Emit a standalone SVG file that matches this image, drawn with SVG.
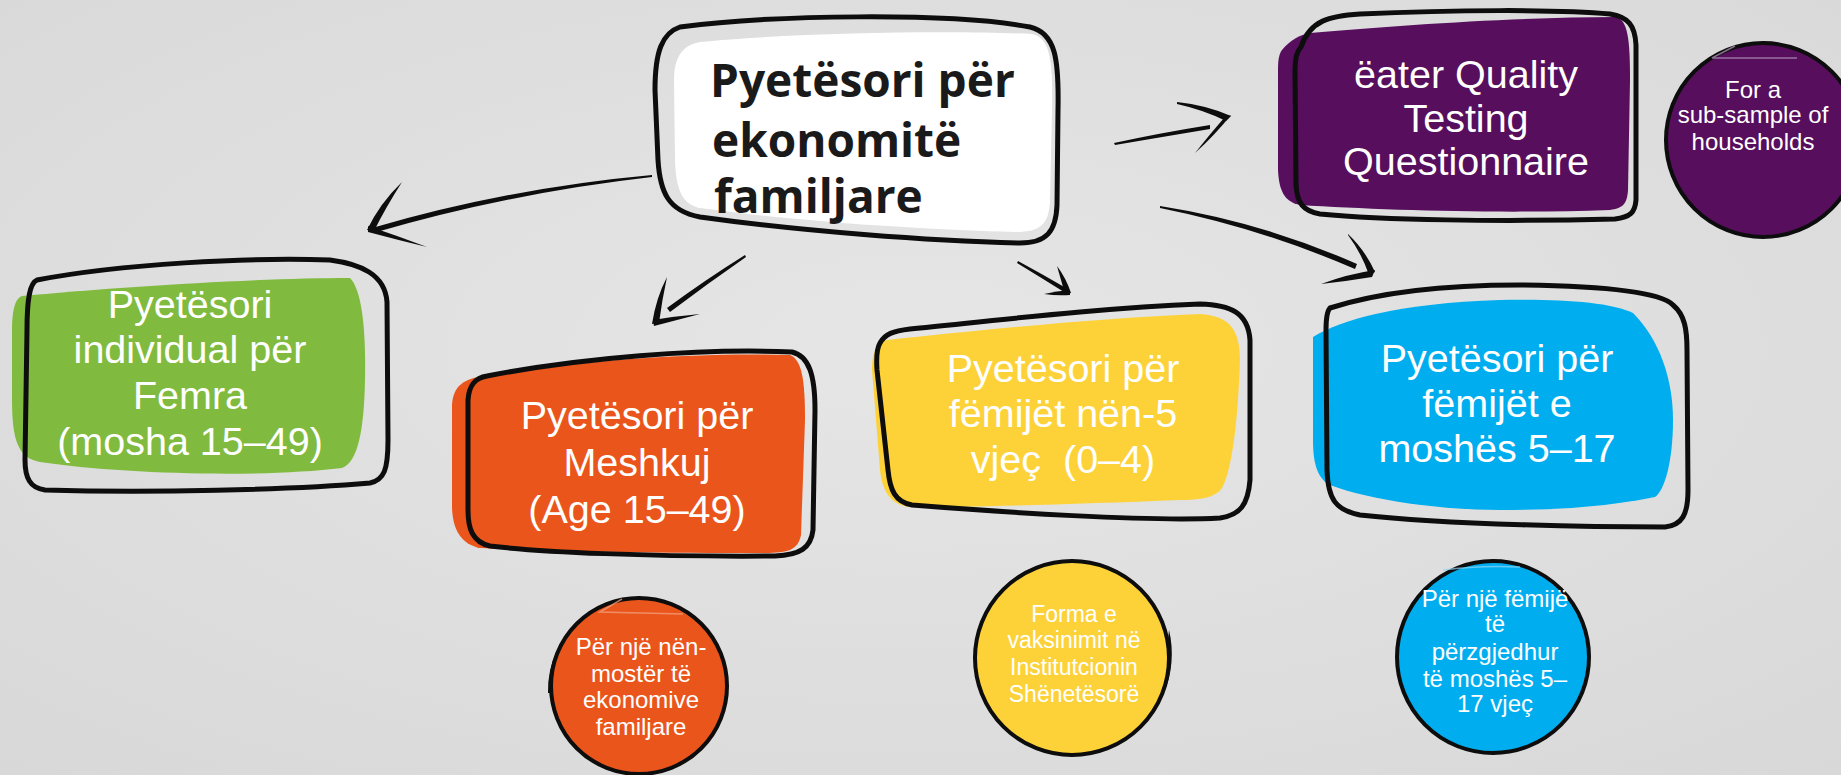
<svg xmlns="http://www.w3.org/2000/svg" width="1841" height="775" viewBox="0 0 1841 775">
<defs>
<radialGradient id="bg" cx="50%" cy="45%" r="75%">
<stop offset="0" stop-color="#e6e6e6"/>
<stop offset="1" stop-color="#d8d8d8"/>
</radialGradient>
<style>
.ol{fill:none;stroke:#0d0d0d;stroke-width:5;stroke-linejoin:round;stroke-linecap:round}
.col{fill:none;stroke:#0d0d0d;stroke-width:4}
.lbl{font-family:"Liberation Sans",Arial,sans-serif;font-size:39.5px;fill:#ffffff;text-anchor:middle}
.sm{font-family:"Liberation Sans",Arial,sans-serif;font-size:24px;fill:#ffffff;text-anchor:middle}
.title{font-family:"Open Sans","Liberation Sans",sans-serif;font-weight:700;font-size:46px;fill:#1a1a1a}
.arr{fill:#0d0d0d}
.swoosh{fill:none;stroke-width:1.5;opacity:0.7}
</style>
</defs>
<rect x="0" y="0" width="1841" height="775" fill="url(#bg)"/>

<g id="connectors">
<!-- to green -->
<path class="arr" d="M 652,175 Q 509,188 372,228 L 373,233 Q 510,193 652,177 Z"/>
<path class="arr" d="M 367,230 Q 380,203 402,182 Q 386,207 374,231 Z"/>
<path class="arr" d="M 368,226 Q 398,236 427,247 Q 398,240 368,232 Z"/>
<!-- to orange -->
<path class="arr" d="M 745,255 Q 705,280 667,308 L 670,312 Q 707,284 746,257 Z"/>
<path class="arr" d="M 652,324 Q 656,298 667,277 Q 662,300 659,323 Z"/>
<path class="arr" d="M 653,320 Q 677,316 700,314 Q 677,320 654,326 Z"/>
<!-- to yellow -->
<path class="arr" d="M 1018,261 Q 1042,274 1066,288 L 1064,292 Q 1040,277 1017,263 Z"/>
<path class="arr" d="M 1071,293 Q 1066,278 1057,266 Q 1061,280 1065,294 Z"/>
<path class="arr" d="M 1070,290 Q 1057,291 1044,294 Q 1057,296 1070,295 Z"/>
<!-- to purple -->
<path class="arr" d="M 1114,143 Q 1160,133 1210,125 L 1210,129 Q 1162,137 1115,145 Z"/>
<path class="arr" d="M 1177,102 Q 1206,105 1231,116 L 1226,121 Q 1204,110 1177,104 Z"/>
<path class="arr" d="M 1231,115 Q 1214,136 1195,153 Q 1210,134 1224,118 Z"/>
<!-- to blue -->
<path class="arr" d="M 1160,206 Q 1262,222 1357,264 L 1355,269 Q 1260,228 1160,208 Z"/>
<path class="arr" d="M 1348,234 Q 1365,250 1375,272 L 1369,275 Q 1362,254 1348,235 Z"/>
<path class="arr" d="M 1375,270 Q 1348,274 1321,284 Q 1348,281 1372,277 Z"/>
</g>

<g id="node-main">
<path d="M 700,42 C 790,33 950,30 1032,34 C 1050,38 1053,60 1052,110 L 1050,200 C 1049,225 1040,232 1015,232 C 930,230 800,222 700,208 C 682,204 676,190 675,160 L 674,80 C 674,55 684,45 700,42 Z" fill="#ffffff"/>
<path class="ol" d="M 680,27 C 770,15 950,12 1030,27 C 1056,33 1059,60 1058,110 L 1057,205 C 1056,232 1046,243 1020,243 C 930,241 800,231 700,217 C 668,211 660,192 658,160 L 655,90 C 655,52 662,33 680,27 Z"/>
<text class="title" x="710" y="97">Pyetësori për</text>
<text class="title" x="712" y="157">ekonomitë</text>
<text class="title" x="714" y="213">familjare</text>
</g>

<g id="node-women">
<path d="M 22,296 C 120,287 260,278 350,278 C 362,290 366,330 365,380 C 364,430 358,462 342,468 C 260,478 120,474 40,462 C 18,458 12,440 12,400 L 12,330 C 12,308 16,298 22,296 Z" fill="#80bb3f"/>
<path class="ol" d="M 37,280 C 120,264 250,257 330,260 C 360,264 385,274 387,302 L 388,440 C 388,470 384,480 370,483 C 290,490 150,493 45,490 C 30,488 25,478 25,460 L 27,330 C 27,298 30,283 37,280 Z"/>
<text class="lbl" x="190" y="318">Pyetësori</text>
<text class="lbl" x="190" y="363">individual për</text>
<text class="lbl" x="190" y="409">Femra</text>
<text class="lbl" x="190" y="455">(mosha 15–49)</text>
</g>

<g id="node-men">
<path d="M 483,376 C 580,360 700,352 790,355 C 802,360 805,380 805,420 L 801,535 C 798,550 788,553 765,553 C 650,553 540,551 480,548 C 460,544 452,528 452,505 L 452,405 C 453,385 465,379 483,376 Z" fill="#ea551c"/>
<path class="ol" d="M 487,376 C 580,358 700,348 792,352 C 809,356 815,375 815,410 L 813,530 C 811,548 800,555 775,556 C 650,557 540,552 490,546 C 472,542 468,528 468,510 L 468,400 C 469,385 475,378 487,376 Z"/>
<text class="lbl" x="637" y="429">Pyetësori për</text>
<text class="lbl" x="637" y="476">Meshkuj</text>
<text class="lbl" x="637" y="523">(Age 15–49)</text>
</g>

<g id="node-under5">
<path d="M 887,340 C 980,330 1100,318 1200,314 C 1230,316 1240,330 1240,360 C 1238,420 1232,470 1222,488 C 1215,498 1200,500 1180,500 C 1080,504 980,507 910,507 C 890,505 882,490 880,470 L 872,370 C 872,350 878,342 887,340 Z" fill="#fdd239"/>
<path class="ol" d="M 880,343 C 885,334 893,331 910,329 C 1000,320 1100,308 1200,304 C 1230,305 1248,312 1250,340 L 1250,480 C 1248,505 1240,515 1220,518 C 1150,522 1000,512 912,505 C 895,502 890,490 888,470 L 877,370 C 876,355 877,348 880,343 Z"/>
<text class="lbl" x="1063" y="382">Pyetësori për</text>
<text class="lbl" x="1063" y="427">fëmijët nën-5</text>
<text class="lbl" x="1063" y="473" xml:space="preserve">vjeç  (0–4)</text>
</g>

<g id="node-children">
<path d="M 1313,337 C 1340,320 1400,303 1500,300 C 1560,299 1610,302 1633,313 C 1660,340 1673,380 1673,420 C 1673,460 1665,490 1655,497 C 1600,508 1550,510 1500,510 C 1440,510 1370,500 1330,485 C 1316,478 1313,460 1313,440 Z" fill="#00aeef"/>
<path class="ol" d="M 1330,308 C 1380,292 1450,285 1520,285 C 1600,286 1660,292 1673,305 C 1685,315 1687,330 1687,350 L 1688,490 C 1688,515 1682,525 1665,527 C 1600,527 1450,525 1360,515 C 1336,510 1328,500 1327,470 L 1326,330 C 1326,318 1327,311 1330,308 Z"/>
<text class="lbl" x="1497" y="372">Pyetësori për</text>
<text class="lbl" x="1497" y="417">fëmijët e</text>
<text class="lbl" x="1497" y="462">moshës 5–17</text>
</g>

<g id="node-water">
<path d="M 1282,50 C 1290,40 1300,35 1310,33 C 1400,25 1520,17 1616,17 C 1628,20 1630,40 1630,80 L 1628,190 C 1627,205 1622,208 1610,210 C 1500,214 1380,210 1300,205 C 1284,202 1279,190 1278,170 L 1278,70 C 1278,60 1279,54 1282,50 Z" fill="#560e5d"/>
<path class="ol" d="M 1301,47 C 1310,20 1330,16 1360,14 C 1450,10 1560,9 1610,14 C 1628,17 1635,25 1636,45 L 1636,200 C 1635,213 1630,217 1615,219 C 1500,222 1380,220 1320,214 C 1303,211 1297,203 1296,185 L 1295,70 C 1295,58 1297,51 1301,47 Z"/>
<text class="lbl" x="1466" y="88">ëater Quality</text>
<text class="lbl" x="1466" y="132">Testing</text>
<text class="lbl" x="1466" y="175">Questionnaire</text>
</g>

<g id="note-water">
<circle cx="1763" cy="140" r="97" fill="#560e5d"/>
<circle class="col" cx="1763" cy="140" r="97"/>
<path fill="#0d0d0d" d="M 1668,150 A 96,96 0 0 0 1740,234 A 100,100 0 0 1 1666,140 Z"/>
<path class="swoosh" stroke="#b79cc0" d="M 1735,46 L 1712,58 L 1797,58"/>
<text class="sm" x="1753" y="98">For a</text>
<text class="sm" x="1753" y="123">sub-sample of</text>
<text class="sm" x="1753" y="150">households</text>
</g>

<g id="note-men">
<circle cx="639" cy="686" r="88" fill="#ea551c"/>
<circle class="col" cx="639" cy="686" r="88" stroke-width="6"/>
<path fill="#0d0d0d" d="M 553,693 A 87,87 0 0 1 585,617 A 91,91 0 0 0 548,693 Z"/>
<path class="swoosh" stroke="#f3a583" d="M 622,599 L 600,612 L 683,614"/>
<text class="sm" x="641" y="655">Për një nën-</text>
<text class="sm" x="641" y="682">mostër të</text>
<text class="sm" x="641" y="708">ekonomive</text>
<text class="sm" x="641" y="735">familjare</text>
</g>

<g id="note-under5">
<circle cx="1072" cy="658" r="97" fill="#fdd239"/>
<circle class="col" cx="1072" cy="658" r="97" stroke-width="6"/>
<path fill="#0d0d0d" d="M 1168,640 A 97,97 0 0 1 1120,742 A 101,101 0 0 0 1169,630 Z"/>
<text class="sm" x="1074" y="622" style="font-size:23px">Forma e</text>
<text class="sm" x="1074" y="648" style="font-size:23px">vaksinimit në</text>
<text class="sm" x="1074" y="675" style="font-size:23px">Institutcionin</text>
<text class="sm" x="1074" y="702" style="font-size:23px">Shënetësorë</text>
</g>

<g id="note-children">
<circle cx="1493" cy="657" r="96" fill="#00aeef"/>
<circle class="col" cx="1493" cy="657" r="96"/>
<path class="swoosh" stroke="#8fd6f5" d="M 1443,570 Q 1480,565 1520,567"/>
<text class="sm" x="1495" y="607">Për një fëmijë</text>
<text class="sm" x="1495" y="632">të</text>
<text class="sm" x="1495" y="660">përzgjedhur</text>
<text class="sm" x="1495" y="687">të moshës 5–</text>
<text class="sm" x="1495" y="712">17 vjeç</text>
</g>
</svg>
